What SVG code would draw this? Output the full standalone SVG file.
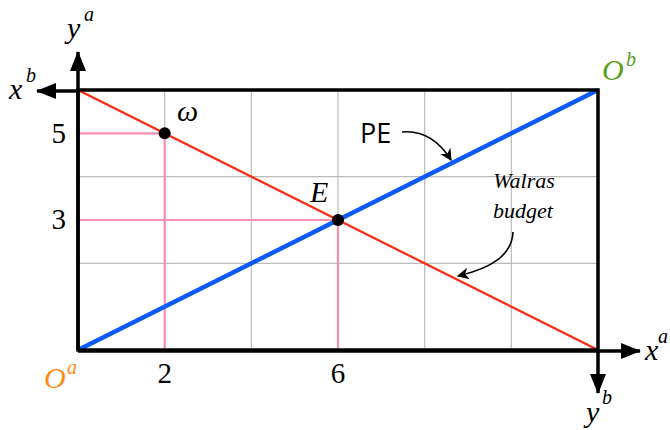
<svg xmlns="http://www.w3.org/2000/svg" width="670" height="430" viewBox="0 0 670 430">
<defs>
<marker id="ah" viewBox="0 0 10 10" refX="9" refY="5" markerWidth="12" markerHeight="12" markerUnits="userSpaceOnUse" orient="auto">
<path d="M0,0 L10,5 L0,10 L3,5 Z" fill="#000"/>
</marker>
<marker id="big" viewBox="0 0 20 16" refX="19" refY="8" markerWidth="20" markerHeight="16" markerUnits="userSpaceOnUse" orient="auto">
<path d="M0,0 L20,8 L0,16 Z" fill="#000"/>
</marker>
</defs>
<style>
.grid{stroke:#bbb;stroke-width:1.2;fill:none}
.pink{stroke:#f490b4;stroke-width:2.2;fill:none}
.axis{stroke:#000;stroke-width:3.5;fill:none}
.math{font-family:"Liberation Serif","DejaVu Serif",serif;font-style:italic;fill:#000}
.m{font-size:30px}
.s{font-size:20px}
.num{font-family:"Liberation Serif","DejaVu Serif",serif;font-size:29px;fill:#000}
.sans{font-family:"Open Sans","Noto Sans",sans-serif;font-size:27px;fill:#000}
</style>
<rect width="670" height="430" fill="#fff"/>
<g id="grid">
<path class="grid" d="M164.7,90V350M251.3,90V350M338,90V350M424.7,90V350M511.3,90V350M78,176.7H598M78,263.3H598"/>
</g>
<g id="guides">
<path class="pink" d="M78,133.3H164.7V350M78,220H338V350"/>
</g>
<g id="connectors">
<line x1="78" y1="90" x2="598" y2="350" stroke="#ff2a0a" stroke-width="2.2"/>
<line x1="78" y1="350" x2="598" y2="90" stroke="#0a5cff" stroke-width="4.5"/>
<path d="M402,132 C425,130 441,144 451,160" fill="none" stroke="#000" stroke-width="1.6" marker-end="url(#ah)"/>
<path d="M513,232 C512,255 492,268 458,276" fill="none" stroke="#000" stroke-width="1.6" marker-end="url(#ah)"/>
</g>
<g id="axes">
<rect x="78" y="90" width="520" height="260" class="axis"/>
<line x1="78" y1="350" x2="78" y2="52" class="axis" marker-end="url(#big)"/>
<line x1="78" y1="91" x2="37" y2="91" class="axis" marker-end="url(#big)"/>
<line x1="78" y1="351" x2="640" y2="351" class="axis" marker-end="url(#big)"/>
<line x1="598" y1="350" x2="598" y2="393" class="axis" marker-end="url(#big)"/>
</g>
<g id="omega">
<circle cx="164.7" cy="133.3" r="6" fill="#000"/>
<text x="177" y="121" class="math m">ω</text>
</g>
<g id="E">
<circle cx="338" cy="220" r="6" fill="#000"/>
<text x="310" y="202" class="math m">E</text>
</g>
<g id="labels">
<text x="67" y="38" class="math m">y</text>
<text x="84" y="21" class="math s">a</text>
<text x="9" y="99" class="math m">x</text>
<text x="26" y="82" class="math s">b</text>
<text x="645" y="360" class="math m">x</text>
<text x="658" y="343" class="math s">a</text>
<text x="586" y="422" class="math m">y</text>
<text x="602" y="404" class="math s">b</text>
<text x="44" y="388" class="math m" style="fill:#ff8c1a">O</text>
<text x="67" y="374" class="math s" style="fill:#ff8c1a">a</text>
<text x="602" y="80" class="math m" style="fill:#5a9e1a">O</text>
<text x="626" y="66" class="math s" style="fill:#5a9e1a">b</text>
<text x="66" y="143" class="num" text-anchor="end">5</text>
<text x="66" y="229" class="num" text-anchor="end">3</text>
<text x="164.7" y="383" class="num" text-anchor="middle">2</text>
<text x="338" y="383" class="num" text-anchor="middle">6</text>
<text x="360" y="143" class="sans">PE</text>
<text x="524" y="188" class="math" font-size="22" text-anchor="middle">Walras</text>
<text x="523" y="218" class="math" font-size="22" text-anchor="middle">budget</text>
</g>
</svg>
